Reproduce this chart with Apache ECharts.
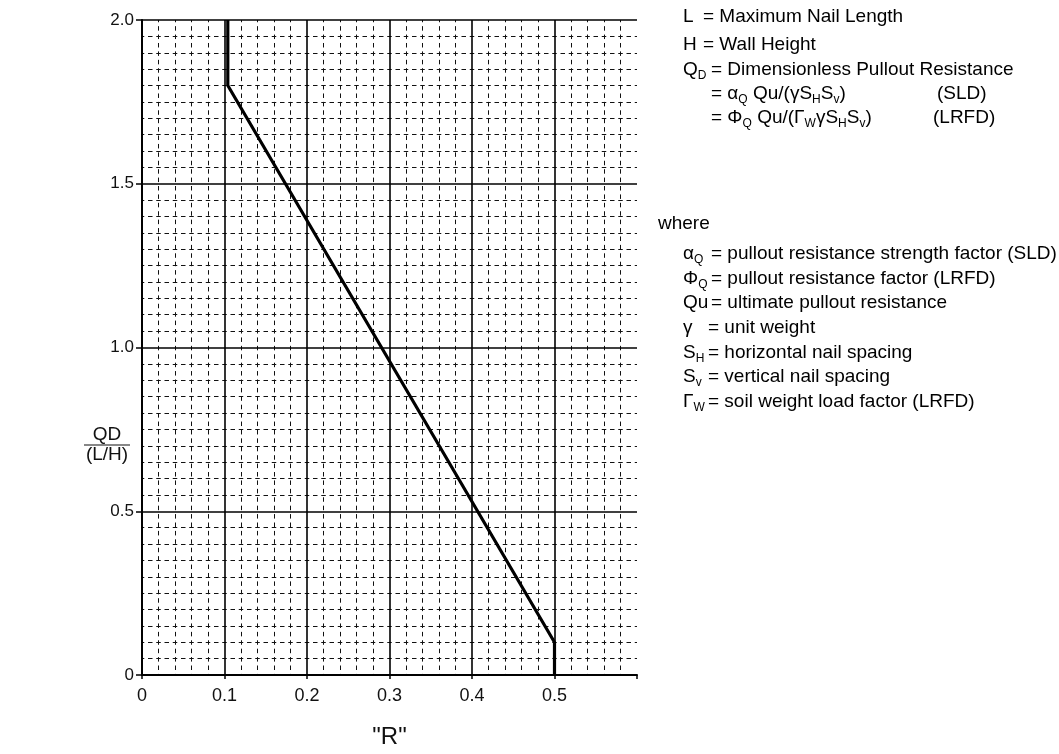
<!DOCTYPE html>
<html><head><meta charset="utf-8">
<script src="https://cdn.jsdelivr.net/npm/echarts@6/dist/echarts.min.js"></script>
<style>html,body{margin:0;padding:0;background:#fff}#c{width:1059px;height:754px}</style>
</head><body><div id="c"></div>
<script>
// Data
const rValues = [0.5, 0.5, 0.104, 0.104];
const qValues = [0, 0.1, 1.8, 2.0];
const xTicks = ['0', '0.1', '0.2', '0.3', '0.4', '0.5'];
const yTicks = ['0', '0.5', '1.0', '1.5', '2.0'];
const xMajor = [0.1, 0.2, 0.3, 0.4, 0.5];
const yMajor = [0.5, 1.0, 1.5, 2.0];

const FONT = '"Liberation Sans", Arial, sans-serif';
const chart = echarts.init(document.getElementById('c'), null, {renderer: 'canvas'});

const rich = {
  n: {fontSize: 19, fontFamily: FONT, color: '#111'},
  s: {fontSize: 12, fontFamily: FONT, color: '#111', padding: [12, 0, 0, 0]}
};
// [symbol x, y, symbol, eq x, text]
const defs = [
  [683, 17, '{n|L}', 703, '{n|= Maximum Nail Length}'],
  [683, 45, '{n|H}', 703, '{n|= Wall Height}'],
  [683, 70, '{n|Q}{s|D}', 711, '{n|= Dimensionless Pullout Resistance}'],
  [683, 94, '', 711, '{n|= α}{s|Q}{n| Qu/(γS}{s|H}{n|S}{s|v}{n|)}'],
  [683, 118, '', 711, '{n|= Φ}{s|Q}{n| Qu/(Γ}{s|W}{n|γS}{s|H}{n|S}{s|v}{n|)}'],
  [683, 254, '{n|α}{s|Q}', 711, '{n|= pullout resistance strength factor (SLD)}'],
  [683, 279, '{n|Φ}{s|Q}', 711, '{n|= pullout resistance factor (LRFD)}'],
  [683, 303, '{n|Qu}', 711, '{n|= ultimate pullout resistance}'],
  [683, 328, '{n|γ}', 708, '{n|= unit weight}'],
  [683, 353, '{n|S}{s|H}', 708, '{n|= horizontal nail spacing}'],
  [683, 377, '{n|S}{s|v}', 708, '{n|= vertical nail spacing}'],
  [683, 402, '{n|Γ}{s|W}', 708, '{n|= soil weight load factor (LRFD)}']
];
const graphics = [];
defs.forEach(function (d) {
  if (d[2]) graphics.push({type: 'text', x: d[0], y: d[1], style: {text: d[2], rich: rich, verticalAlign: 'middle', align: 'left'}});
  graphics.push({type: 'text', x: d[3], y: d[1], style: {text: d[4], rich: rich, verticalAlign: 'middle', align: 'left'}});
});
graphics.push({type: 'text', x: 937, y: 94, style: {text: '{n|(SLD)}', rich: rich, verticalAlign: 'middle'}});
graphics.push({type: 'text', x: 933, y: 118, style: {text: '{n|(LRFD)}', rich: rich, verticalAlign: 'middle'}});
graphics.push({type: 'text', x: 658, y: 224, style: {text: '{n|where}', rich: rich, verticalAlign: 'middle'}});
// y axis title
graphics.push({type: 'text', x: 107, y: 435, style: {text: 'QD', font: '19px ' + FONT, fill: '#111', align: 'center', verticalAlign: 'middle'}});
graphics.push({type: 'line', shape: {x1: 84, y1: 445, x2: 130, y2: 445}, style: {stroke: '#111', lineWidth: 1.2}});
graphics.push({type: 'text', x: 107, y: 455, style: {text: '(L/H)', font: '19px ' + FONT, fill: '#111', align: 'center', verticalAlign: 'middle'}});

const minorStyleV = {color: '#111', width: 1, type: [4.5, 3.9125], dashOffset: 2.25};
const minorStyleH = {color: '#111', width: 1, type: [4.5, 3.75], dashOffset: 2.25};

chart.setOption({
  animation: false,
  backgroundColor: '#fff',
  grid: {left: 142, top: 20, width: 495, height: 673, containLabel: false},
  xAxis: {
    type: 'value', min: 0, max: 0.6, interval: 0.1,
    name: '"R"', nameLocation: 'middle', nameGap: 50,
    nameTextStyle: {fontSize: 24, fontFamily: FONT, color: '#111'},
    axisLine: {show: true, lineStyle: {color: '#000', width: 2}},
    axisTick: {show: true, length: 4, lineStyle: {color: '#000', width: 1.5}},
    axisLabel: {fontSize: 18, fontFamily: FONT, color: '#111', margin: 12,
      formatter: function (v) { const i = Math.round(v * 10); return i <= 5 ? xTicks[i] : ''; }},
    splitLine: {show: false},
    minorTick: {show: false, splitNumber: 5},
    minorSplitLine: {show: true, lineStyle: minorStyleV}
  },
  yAxis: {
    type: 'value', min: 0, max: 2, interval: 0.5,
    axisLine: {show: true, lineStyle: {color: '#000', width: 2}},
    axisTick: {show: true, length: 6, lineStyle: {color: '#000', width: 1.5}},
    axisLabel: {fontSize: 17, fontFamily: FONT, color: '#111', margin: 8,
      formatter: function (v) { return yTicks[Math.round(v * 2)]; }},
    splitLine: {show: false},
    minorTick: {show: false, splitNumber: 10},
    minorSplitLine: {show: true, lineStyle: minorStyleH}
  },
  series: [{
    type: 'line',
    data: rValues.map(function (r, i) { return [r, qValues[i]]; }),
    symbol: 'none',
    lineStyle: {color: '#000', width: 3.2},
    z: 5,
    markLine: {
      silent: true, symbol: 'none', label: {show: false},
      lineStyle: {color: '#000', width: 1.6, type: 'solid'},
      data: xMajor.map(function (v) { return {xAxis: v}; }).concat(yMajor.map(function (v) { return {yAxis: v}; }))
    }
  }],
  graphic: graphics
});
</script></body></html>
